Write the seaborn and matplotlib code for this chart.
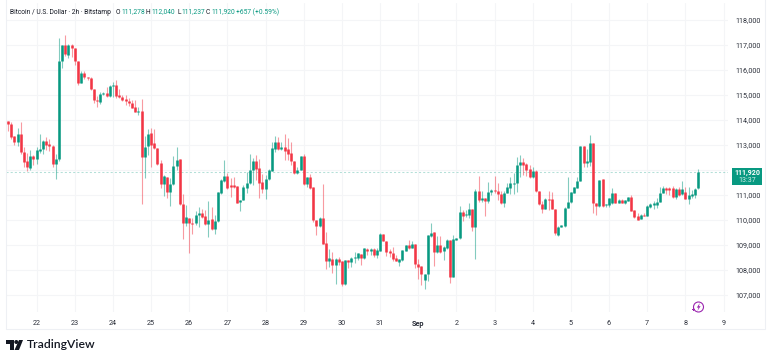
import numpy as np
import pandas as pd
import matplotlib
matplotlib.use('Agg')
import matplotlib.pyplot as plt
from matplotlib.patches import Circle, Polygon, Rectangle
import seaborn as sns

# 2h candles, Bitstamp BTCUSD
opens = [
    113960, 113840, 113360, 113110, 113450, 112730, 112360, 112080, 112560, 112440,
    112750, 112840, 113160, 113040, 112970, 112240, 112430, 116360, 117000, 116610,
    117000, 116880, 116370, 115480, 115880, 115720, 115680, 115230, 114800, 114720,
    115040, 115090, 114950, 115360, 115400, 114990, 114920, 114830, 114760, 114680,
    114510, 114330, 114360, 112530, 112960, 113480, 113070, 112880, 112280, 111430,
    111730, 111130, 111450, 112170, 112430, 110650, 109870, 110090, 109880, 109870,
    110200, 110280, 110160, 109850, 110040, 109640, 109960, 111090, 111570, 111760,
    111400, 111390, 111350, 110710, 110800, 111290, 111470, 112000, 112360, 112070,
    111510, 111240, 111630, 111960, 112830, 113130, 112840, 112910, 112840, 112690,
    112370, 111880, 112000, 112570, 111440, 111730, 111310, 110000, 109760, 110080,
    109080, 108360, 108440, 108200, 108440, 108360, 107430, 108400, 108320, 108480,
    108480, 108650, 108480, 108840, 108760, 108830, 108590, 108770, 109440, 109160,
    108770, 108690, 108490, 108330, 108400, 108770, 108990, 108880, 109040, 108240,
    108160, 107600, 107830, 109370, 109510, 108720, 109010, 108760, 108870, 109200,
    107730, 109200, 109270, 110310, 110190, 110200, 110440, 109720, 111170, 110800,
    110890, 110760, 111110, 111200, 111170, 111040, 110680, 111070, 111270, 111460,
    111470, 112200, 112310, 112230, 112030, 111730, 111970, 111160, 110640, 110440,
    110840, 110830, 110450, 109400, 109730, 109760, 110470, 110710, 111080, 111280,
    111560, 112960, 112270, 112330, 113080, 110690, 110560, 111630, 110590, 110610,
    110670, 111070, 110680, 110810, 110680, 110760, 110930, 110390, 110160, 110030,
    110200, 110160, 110530, 110590, 110610, 110720, 111090, 111270, 111290, 111270,
    110920, 111240, 111040, 111120, 110840, 110970, 111000, 111278,
]
highs = [
    113960, 113930, 113360, 113670, 113920, 112910, 112670, 112800, 112600, 112930,
    113450, 113190, 113320, 113240, 113000, 112640, 117290, 117000, 117410, 117040,
    117040, 116880, 116370, 115960, 115950, 115720, 115720, 115230, 114970, 115130,
    115130, 115310, 115400, 115520, 115600, 115240, 115000, 115000, 114870, 114800,
    114800, 114510, 114830, 113360, 113640, 113690, 113630, 112880, 112400, 111800,
    111730, 111670, 112560, 112930, 112430, 111040, 110590, 110090, 110070, 110370,
    110530, 110430, 110400, 110750, 110510, 110200, 111130, 111630, 112400, 111870,
    111670, 111710, 111350, 110800, 111400, 111910, 112630, 112470, 112600, 112440,
    111830, 111800, 112030, 113130, 113350, 113320, 113130, 113440, 113290, 113130,
    112370, 112130, 112560, 112630, 111730, 111840, 111310, 110000, 110130, 111440,
    109510, 108830, 108730, 108470, 108510, 108360, 108400, 108400, 108530, 108730,
    108690, 108650, 108890, 108890, 108890, 108870, 108870, 109470, 109440, 109160,
    108830, 108930, 108600, 108430, 108800, 109000, 109200, 109160, 109040, 108440,
    108160, 107830, 109400, 109890, 109510, 109360, 109370, 108970, 109240, 109200,
    109400, 109290, 110570, 110400, 110400, 110690, 110440, 111230, 111760, 111160,
    110890, 111530, 111230, 111760, 111470, 111160, 111160, 111470, 111730, 111890,
    112510, 112600, 112470, 112270, 112200, 112130, 112000, 111160, 110770, 110870,
    111160, 111130, 110450, 109760, 109800, 110530, 111730, 111130, 111310, 111710,
    112970, 112960, 112830, 113400, 113080, 110690, 111600, 111650, 110640, 110870,
    111270, 111070, 110840, 110840, 110800, 110930, 111000, 110390, 110270, 110240,
    110270, 110590, 110690, 110750, 110870, 111330, 111360, 111330, 111330, 111360,
    111270, 111330, 111570, 111310, 111330, 111200, 111290, 112040,
]
lows = [
    113560, 113250, 113000, 112960, 112640, 112130, 111950, 112000, 112200, 112240,
    112690, 112640, 112800, 112760, 112110, 111650, 112370, 116090, 116560, 116480,
    116530, 116200, 115400, 115470, 115630, 115600, 115200, 114670, 114510, 114640,
    115000, 114910, 114910, 114930, 114870, 114870, 114770, 114610, 114560, 114470,
    114310, 114210, 110650, 111670, 112600, 112120, 112830, 112210, 111270, 110960,
    110890, 110560, 111400, 112000, 110600, 109250, 109770, 108690, 109440, 109800,
    109730, 110070, 109800, 109330, 109600, 109430, 109920, 111040, 111530, 111250,
    110910, 111270, 110670, 110360, 110800, 111070, 111430, 111400, 111600, 110890,
    111070, 110840, 111600, 111960, 112710, 112800, 112800, 112390, 112390, 112200,
    111830, 111830, 112000, 111400, 111330, 111240, 109910, 109400, 109730, 109030,
    108030, 108130, 107870, 107450, 108200, 107370, 107400, 108090, 108130, 108290,
    108400, 108210, 108440, 108600, 108600, 108510, 108470, 108760, 109160, 108570,
    108510, 108360, 108360, 108160, 108360, 108770, 108830, 108870, 108070, 107630,
    107400, 107250, 107560, 109330, 108160, 108670, 108690, 108400, 108840, 107470,
    107730, 109200, 109230, 109970, 110110, 110070, 109570, 108430, 110730, 110730,
    110160, 110690, 111000, 111090, 110800, 110640, 110530, 111070, 111040, 111040,
    111120, 111730, 111800, 111770, 111670, 111690, 111130, 110610, 110290, 110430,
    110400, 110430, 109400, 109350, 109730, 109730, 110470, 110690, 111070, 111270,
    111550, 112130, 112130, 112170, 110270, 110200, 110530, 110530, 110510, 110510,
    110640, 110670, 110670, 110670, 110640, 110760, 110360, 110070, 110000, 110030,
    110160, 110160, 110470, 110440, 110470, 110720, 111070, 111040, 111000, 110870,
    110830, 110970, 111000, 110830, 110630, 110870, 110890, 111237,
]
closes = [
    113840, 113310, 113110, 113450, 112730, 112320, 112120, 112560, 112440, 112800,
    112850, 113160, 113000, 112960, 112240, 112430, 116360, 117000, 116640, 117000,
    116870, 116350, 115470, 115880, 115710, 115670, 115230, 114800, 114760, 115040,
    115090, 114950, 115370, 115400, 114960, 114920, 114810, 114760, 114690, 114490,
    114330, 114370, 112530, 112930, 113440, 113000, 112870, 112240, 111450, 111760,
    111130, 111450, 112160, 112410, 110630, 109870, 110120, 109870, 109850, 110200,
    110280, 110130, 109830, 110000, 109640, 109960, 111130, 111590, 111760, 111290,
    111330, 111330, 110690, 110800, 111310, 111470, 112000, 112370, 112040, 111490,
    111240, 111630, 112000, 112870, 113130, 112840, 112910, 112770, 112650, 112360,
    111870, 112000, 112560, 111440, 111730, 111290, 110000, 109760, 110080, 109050,
    108370, 108470, 108200, 108430, 108330, 107430, 108400, 108320, 108490, 108510,
    108680, 108480, 108870, 108760, 108840, 108590, 108800, 109440, 109160, 108730,
    108690, 108450, 108360, 108430, 108800, 108990, 108890, 109030, 108230, 108130,
    107830, 107830, 109400, 109490, 108730, 109010, 108720, 108910, 109200, 107730,
    109230, 109290, 110310, 110170, 110250, 110430, 109730, 111170, 110800, 110870,
    110760, 111110, 111200, 111170, 111040, 110680, 111090, 111310, 111470, 111480,
    112200, 112330, 112200, 112000, 111730, 111970, 111160, 110640, 110450, 110830,
    110810, 110440, 109470, 109730, 109800, 110490, 110720, 111110, 111310, 111570,
    112970, 112290, 112360, 113080, 110690, 110560, 111600, 110560, 110640, 110870,
    111070, 110680, 110810, 110680, 110800, 110920, 110360, 110130, 110000, 110200,
    110180, 110560, 110640, 110670, 110730, 111090, 111270, 111200, 111200, 110910,
    111240, 111000, 111230, 110840, 111000, 111030, 111240, 111920,
]

day_labels = ['22', '23', '24', '25', '26', '27', '28', '29', '30', '31', 'Sep',
              '2', '3', '4', '5', '6', '7', '8', '9']
price_ticks = list(range(107000, 119000, 1000))
last_price = 111920

UP = '#089981'
DOWN = '#F23645'
W, H = 768, 361


def px(x, y):
    return x / W, 1 - y / H


sns.set_theme(style='white')
plt.rcParams['font.family'] = ['Roboto', 'DejaVu Sans']

df = pd.DataFrame({'bar': np.arange(len(opens)), 'o': opens, 'h': highs, 'l': lows, 'c': closes})
df['side'] = np.where(df['c'] >= df['o'], 'up', 'down')

# candle body has at least 1px height, like the real thing
mid = (df['o'] + df['c']) / 2
half = ((df['o'] - df['c']).abs() / 2).clip(lower=22)
df['top'] = mid + half
df['bot'] = mid - half

wicks = df.melt(id_vars=['bar', 'side'], value_vars=['h', 'l'], value_name='price')
bodies = df.melt(id_vars=['bar', 'side'], value_vars=['top', 'bot'], value_name='price')

fig = plt.figure(figsize=(W / 100, H / 100), dpi=100)
fig.patch.set_facecolor('white')
ax = fig.add_axes([5.5 / W, 1 - 312 / H, (728 - 5.5) / W, (312 - 3) / H])
ax.set_facecolor('white')

pal = {'up': UP, 'down': DOWN}
sns.lineplot(data=wicks, x='bar', y='price', hue='side', units='bar', estimator=None,
             palette=pal, lw=0.8, alpha=0.5, legend=False, ax=ax, zorder=3,
             solid_capstyle='butt')
sns.lineplot(data=bodies, x='bar', y='price', hue='side', units='bar', estimator=None,
             palette=pal, lw=1.85, legend=False, ax=ax, zorder=4,
             solid_capstyle='butt')

ax.set_xlim((5.5 - 8) / 3.18, (728 - 8) / 3.18)
ax.set_ylim(118000 - (312 - 20) * 40, 118000 + 17 * 40)

ax.set_xticks(np.arange(len(day_labels)) * 12 + 9)
ax.set_xticklabels(day_labels)
ax.yaxis.tick_right()
ax.set_yticks(price_ticks)
# 112,000 sits behind the last price tag
ax.set_yticklabels(['' if p == 112000 else f'{p:,}' for p in price_ticks])
ax.set_xlabel('')
ax.set_ylabel('')
ax.grid(True, color='#f4f5f7', lw=0.75, zorder=0)
ax.set_axisbelow(True)
for s in ax.spines.values():
    s.set_visible(False)
ax.tick_params(axis='x', length=0, pad=5.8, labelsize=5.2, labelcolor='#2a2e39')
ax.tick_params(axis='y', length=0, pad=5.5, labelsize=5.1, labelcolor='#2a2e39')
ax.get_xticklabels()[10].set_fontweight('bold')

ax.axhline(last_price, color=UP, lw=0.75, ls=(0, (2, 2)), alpha=0.3, zorder=2)

# outer frame of the widget, top edge falls outside the crop
fig.add_artist(Rectangle(px(5.5, 329), 759.5 / W, 340 / H, fill=False, ec='#eef0f4', lw=0.75,
                         transform=fig.transFigure))

# legend line on top
INK = '#131722'
fs = 4.75
fig.text(*px(10, 12), 'Bitcoin / U.S. Dollar · 2h · Bitstamp', fontsize=fs, color=INK, va='center')
for x, letter, x2, val in [(116, 'O', 121, '111,278'), (146, 'H', 151, '112,040'),
                           (177, 'L', 181, '111,237'), (206, 'C', 211, '111,920')]:
    fig.text(*px(x, 12), letter, fontsize=fs, color=INK, va='center')
    fig.text(*px(x2, 12), val, fontsize=fs, color=UP, va='center')
fig.text(*px(236, 12), '+657 (+0.59%)', fontsize=fs, color=UP, va='center')

# last price tag
fig.add_artist(Rectangle(px(732, 185), 30 / W, 17 / H, fc=UP, ec='none', transform=fig.transFigure))
fig.text(*px(747, 172.5), '111,920', fontsize=5.1, color='white', va='center', ha='center', fontweight='bold')
fig.text(*px(747, 181), '13:37', fontsize=5.0, color='#d5efe9', va='center', ha='center')

# purple flash icon
fig_ax = fig.add_axes([0, 0, 1, 1], facecolor='none')
fig_ax.set_xlim(0, W)
fig_ax.set_ylim(H, 0)
fig_ax.axis('off')
fig_ax.add_patch(Circle((698.5, 307), 5, fill=False, ec='#9c27b0', lw=0.8))
fig_ax.add_patch(Polygon([(699.8, 303), (696.8, 307.6), (698.5, 307.6), (697.4, 311),
                          (700.6, 306.2), (698.9, 306.2)], fc='#9c27b0', ec='none'))
fig_ax.add_patch(Rectangle((691.5, 309.1), 3.6, 0.9, fc='#9c27b0', ec='none'))
fig_ax.add_patch(Rectangle((692.9, 307.7), 0.9, 3.6, fc='#9c27b0', ec='none'))

# TradingView logo
LOGO = '#131722'
fig_ax.add_patch(Polygon([(6, 340), (14, 340), (14, 350), (10, 350), (10, 344), (6, 344)], fc=LOGO, ec='none'))
fig_ax.add_patch(Circle((16.3, 342), 2, fc=LOGO, ec='none'))
fig_ax.add_patch(Polygon([(19, 340), (23, 340), (19, 350), (14.5, 350)], fc=LOGO, ec='none'))
fig.text(*px(27, 345), 'TradingView', fontsize=8.7, color=LOGO, va='center', fontweight='semibold',
         family=['Lato', 'DejaVu Sans'])

fig.savefig('out.png', dpi=100)
